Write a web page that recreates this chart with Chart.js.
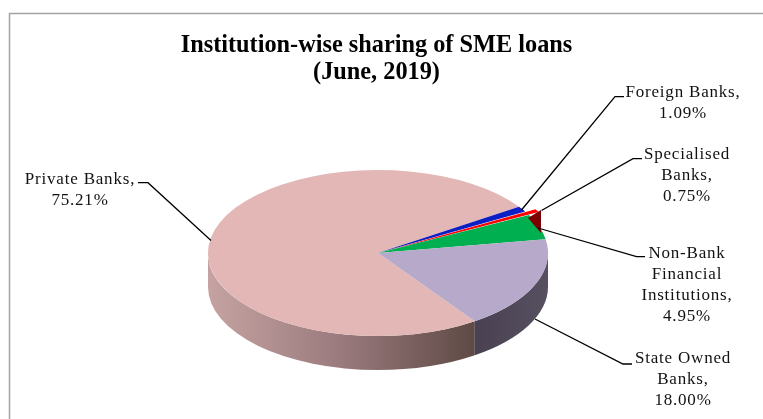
<!DOCTYPE html>
<html>
<head>
<meta charset="utf-8">
<style>
  html, body { margin: 0; padding: 0; background: #fff; }
  #wrap { position: relative; width: 763px; height: 419px; }
</style>
</head>
<body>
<div id="wrap"><canvas id="pie"></canvas></div>
<script src="https://cdn.jsdelivr.net/npm/chart.js@4/dist/chart.umd.min.js"></script>
<script>
// 1. data
const categories = ['Private Banks', 'Foreign Banks', 'Specialised Banks', 'Non-Bank Financial Institutions', 'State Owned Banks'];
const shares = [75.21, 1.09, 0.75, 4.95, 18.00];
const labelLines = [
    ['Private Banks,'],
    ['Foreign Banks,'],
    ['Specialised', 'Banks,'],
    ['Non-Bank', 'Financial', 'Institutions,'],
    ['State Owned', 'Banks,']
];
const titleLines = ['Institution-wise sharing of SME loans', '(June, 2019)'];

// 2. styles and layout
const sliceColors = ['#e3b7b6', '#0b1fc4', '#ff0000', '#00b050', '#b7a9c9'];
const sliceOffsets = [0, 0, 20, 0, 0];
const wallStops = [
    [[0, '#c6a3a2'], [0.5, '#9a7a7d'], [1, '#5e4a45']],
    null,
    null,
    null,
    [[0, '#494151'], [1, '#575060']]
];
const labelCenters = [80, 683, 687, 687, 683];
const labelFirstY = [179.5, 92.5, 154.5, 253.5, 359];
const leaders = [
    [[211, 240.5], [148, 182.7], [138, 182.7]],
    [[521.5, 210], [615, 96.7], [624, 96.7]],
    [[541.5, 210.5], [633, 158.7], [642, 158.7]],
    [[538, 228], [636.5, 256.7], [645, 256.7]],
    [[535, 319], [623, 364], [632, 364]]
];
const PIE_X = 378, PIE_Y = 253, PIE_RX = 170, PIE_RY = 83, PIE_DEPTH = 34;
const PULL_TIP_X = 541, PULL_TIP_Y = 210; // corner of the pulled-out slice's inner face

// 3. squash the flat pie into an ellipse and draw the side wall under it
const tiltPlugin = {
    id: 'tilt',
    beforeDatasetsDraw(chart) {
        const ctx = chart.ctx;
        const arcs = chart.getDatasetMeta(0).data;
        arcs.forEach((arc, i) => {
            if (!wallStops[i]) return;
            [0, -Math.PI * 2].forEach(shift => {
                const a0 = Math.max(arc.startAngle + shift, 0);
                const a1 = Math.min(arc.endAngle + shift, Math.PI);
                if (a1 <= a0) return;
                const x0 = PIE_X + PIE_RX * Math.cos(a1);
                const x1 = PIE_X + PIE_RX * Math.cos(a0);
                const grad = ctx.createLinearGradient(x0, 0, x1, 0);
                wallStops[i].forEach(s => grad.addColorStop(s[0], s[1]));
                ctx.beginPath();
                ctx.ellipse(PIE_X, PIE_Y, PIE_RX, PIE_RY, 0, a0, a1);
                ctx.ellipse(PIE_X, PIE_Y + PIE_DEPTH, PIE_RX, PIE_RY, 0, a1, a0, true);
                ctx.closePath();
                ctx.fillStyle = grad;
                ctx.fill();
            });
        });
        const first = arcs[0];
        const s = PIE_RX / first.outerRadius;
        ctx.save();
        ctx.translate(PIE_X, PIE_Y);
        ctx.scale(s, s * PIE_RY / PIE_RX);
        ctx.translate(-first.x, -first.y);
    },
    afterDatasetsDraw(chart) {
        const ctx = chart.ctx;
        ctx.restore();

        // dark inner face of the pulled-out slice
        ctx.beginPath();
        ctx.moveTo(PULL_TIP_X, PULL_TIP_Y);
        ctx.lineTo(PULL_TIP_X - 13, PULL_TIP_Y + 8);
        ctx.lineTo(PULL_TIP_X, PULL_TIP_Y + 23);
        ctx.closePath();
        ctx.fillStyle = '#7d0000';
        ctx.fill();
    },
    afterDraw(chart) {
        const ctx = chart.ctx;
        ctx.save();

        // frame, only top and left show in the crop
        ctx.strokeStyle = '#a3a3a3';
        ctx.lineWidth = 1.5;
        ctx.beginPath();
        ctx.moveTo(9.5, 419);
        ctx.lineTo(9.5, 13.5);
        ctx.lineTo(763, 13.5);
        ctx.stroke();

        // leader lines
        ctx.strokeStyle = '#000';
        ctx.lineWidth = 1.3;
        leaders.forEach(pts => {
            ctx.beginPath();
            pts.forEach((p, i) => i ? ctx.lineTo(p[0], p[1]) : ctx.moveTo(p[0], p[1]));
            ctx.stroke();
        });

        // data labels
        ctx.fillStyle = '#111';
        ctx.font = '17px "Liberation Serif"';
        ctx.letterSpacing = '0.8px';
        ctx.textAlign = 'center';
        ctx.textBaseline = 'middle';
        categories.forEach((name, i) => {
            const lines = labelLines[i].concat(shares[i].toFixed(2) + '%');
            lines.forEach((t, j) => ctx.fillText(t, labelCenters[i], labelFirstY[i] + j * 21));
        });
        ctx.restore();
    }
};

// 4. chart
new Chart(document.getElementById('pie'), {
    type: 'pie',
    data: {
        labels: categories,
        datasets: [{
            data: shares,
            backgroundColor: sliceColors,
            borderWidth: 0,
            offset: sliceOffsets,
            clip: false
        }]
    },
    options: {
        responsive: true,
        maintainAspectRatio: false,
        animation: false,
        rotation: 145.3,
        layout: { padding: { top: 33, left: 0, right: 10, bottom: 10 } },
        plugins: {
            legend: { display: false },
            tooltip: { enabled: false },
            title: {
                display: true,
                text: titleLines,
                color: '#000',
                font: { family: '"Liberation Serif"', size: 24.3, weight: 'bold', lineHeight: 1.08 },
                padding: { top: 0, bottom: 10 }
            }
        }
    },
    plugins: [tiltPlugin]
});
</script>
</body>
</html>
